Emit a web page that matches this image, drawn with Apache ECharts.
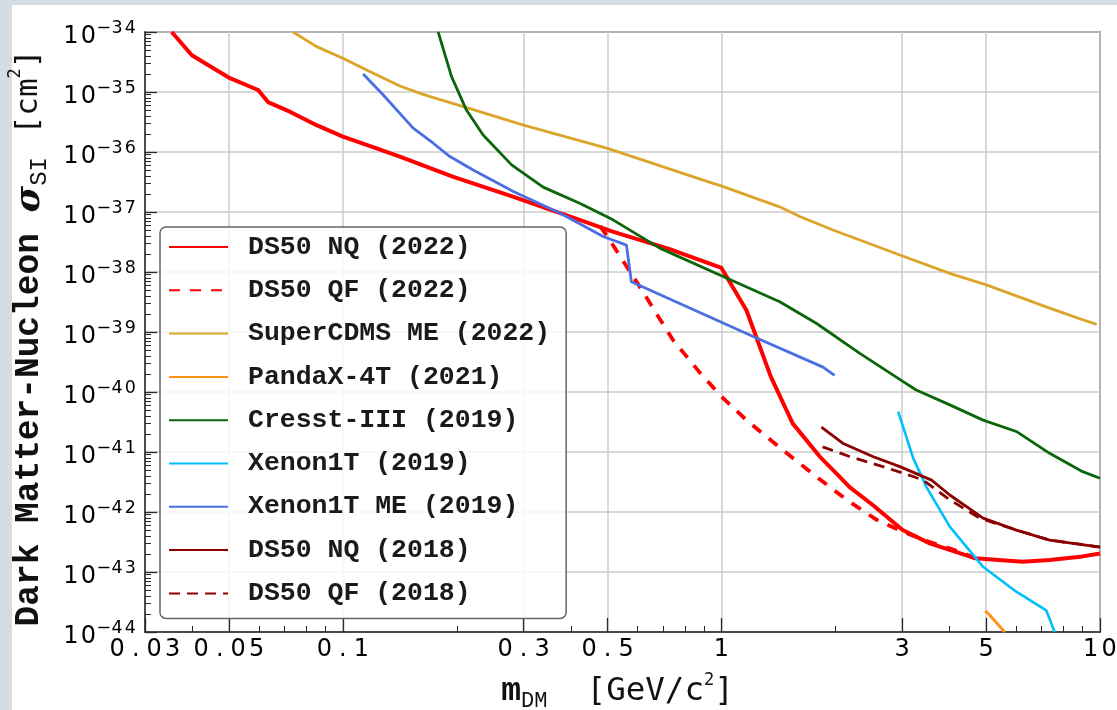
<!DOCTYPE html>
<html>
<head>
<meta charset="utf-8">
<script src="https://cdn.jsdelivr.net/npm/echarts@6/dist/echarts.min.js"></script>
<style>
  html, body { margin: 0; padding: 0; background: #fff; }
  #chart { width: 1117px; height: 710px; }
</style>
</head>
<body>
<div id="chart"></div>
<script>
// [mass in GeV/c^2, cross section in cm^2]
const ds50NQ2022 = [[0.0353, 1.0e-34], [0.0399, 4.1e-35], [0.0503, 1.7e-35], [0.0597, 1.08e-35], [0.0634, 6.8e-36],
  [0.0724, 4.7e-36], [0.0852, 2.8e-36], [0.1, 1.8e-36], [0.1155, 1.31e-36], [0.1414, 8.4e-37], [0.195, 3.9e-37],
  [0.281, 1.8e-37], [0.345, 1.15e-37], [0.422, 7.4e-38], [0.516, 4.7e-38], [0.73, 2.4e-38], [1.0, 1.17e-38],
  [1.164, 2.3e-39], [1.35, 1.8e-40], [1.542, 3.0e-41], [1.818, 8.4e-42], [2.05, 3.9e-42], [2.18, 2.6e-42],
  [2.51, 1.31e-42], [3.01, 5.0e-43], [3.55, 3.0e-43], [4.67, 1.7e-43], [6.25, 1.48e-43], [7.36, 1.58e-43],
  [9.0, 1.82e-43], [10, 2.04e-43]]
const ds50QF2022 = [[0.478, 5.8e-38], [0.497, 4.1e-38], [0.608, 5.7e-39], [0.744, 7.4e-40], [0.877, 2.1e-40],
  [1.0, 8.4e-41], [1.164, 3.4e-41], [1.452, 1.08e-41], [1.78, 3.9e-42], [2.14, 1.6e-42], [2.57, 7.4e-43],
  [3.01, 4.7e-43], [3.55, 3.16e-43], [4.33, 2.1e-43], [4.67, 1.7e-43]]
const superCDMS2022 = [[0.0738, 1.0e-34], [0.0852, 5.7e-35], [0.1, 3.65e-35], [0.1155, 2.33e-35], [0.1414, 1.26e-35],
  [0.16, 9.5e-36], [0.17, 8.4e-36], [0.208, 5.7e-36], [0.3, 2.8e-36], [0.5, 1.15e-36], [0.95, 3.0e-37],
  [0.985, 2.8e-37], [1.425, 1.22e-37], [1.61, 8.4e-38], [1.97, 5.0e-38], [2.96, 1.92e-38], [4.01, 9.5e-39],
  [5.01, 6.1e-39], [7.36, 2.5e-39], [9.0, 1.6e-39], [9.8, 1.34e-39]]
const pandaX2021 = [[4.98, 2.26e-44], [5.11, 1.92e-44], [5.6, 1.0e-44]]
const cresst2019 = [[0.1785, 1.0e-34], [0.1936, 1.8e-35], [0.212, 5.0e-36], [0.2346, 1.92e-36], [0.279, 6.1e-37],
  [0.338, 2.6e-37], [0.422, 1.4e-37], [0.517, 7.4e-38], [0.687, 2.5e-38], [1.01, 8.4e-39], [1.425, 3.2e-39],
  [1.78, 1.4e-39], [2.32, 4.4e-40], [3.02, 1.49e-40], [3.27, 1.08e-40], [4.01, 6.1e-41], [4.91, 3.4e-41],
  [6.01, 2.2e-41], [7.36, 9.5e-42], [9.0, 4.7e-42], [10, 3.65e-42]]
const xenon2019 = [[2.93, 4.7e-41], [3.21, 7.9e-42], [3.48, 2.6e-42], [4.01, 5.7e-43], [4.91, 1.22e-43],
  [6.01, 4.7e-44], [7.21, 2.3e-44], [7.59, 1.0e-44]]
const xenonME2019 = [[0.1131, 2.0e-35], [0.1278, 8.9e-36], [0.1533, 2.5e-36], [0.1732, 1.4e-36], [0.1917, 8.4e-37],
  [0.2208, 5.0e-37], [0.282, 2.2e-37], [0.375, 9.5e-38], [0.487, 3.9e-38], [0.561, 2.8e-38], [0.578, 6.9e-39],
  [1.188, 8.9e-40], [1.854, 2.6e-40], [1.99, 1.9e-40]]
const ds50NQ2018 = [[1.837, 2.6e-41], [2.09, 1.4e-41], [2.51, 8.4e-42], [2.96, 5.7e-42], [3.59, 3.4e-42],
  [4.01, 1.92e-42], [4.91, 7.9e-43], [6.01, 5.0e-43], [7.36, 3.4e-43], [10, 2.6e-43]]
const ds50QF2018 = [[1.85, 1.22e-41], [2.18, 8.4e-42], [2.67, 5.7e-42], [3.21, 3.9e-42], [3.41, 3.4e-42],
  [4.01, 1.6e-42], [4.81, 7.9e-43], [6.01, 5.0e-43], [7.36, 3.4e-43], [10, 2.6e-43]]

const seriesNames = ['DS50 NQ (2022)', 'DS50 QF (2022)', 'SuperCDMS ME (2022)', 'PandaX-4T (2021)',
  'Cresst-III (2019)', 'Xenon1T (2019)', 'Xenon1T ME (2019)', 'DS50 NQ (2018)', 'DS50 QF (2018)']

const xMajorTicks = [0.03, 0.05, 0.1, 0.3, 0.5, 1, 3, 5, 10]
const xTickLabels = ['0.03', '0.05', '0.1', '0.3', '0.5', '1', '3', '5', '10']
const xMinorTicks = [0.04, 0.06, 0.07, 0.08, 0.09, 0.2, 0.4, 0.6, 0.7, 0.8, 0.9, 2, 4, 6, 7, 8, 9]
const yExponents = [-44, -43, -42, -41, -40, -39, -38, -37, -36, -35, -34]
const yMantissas = [2, 3, 4, 5, 6, 7, 8, 9]

// the y axis counts in units of 1e-44 cm^2: very small tick values get lost in rounding
const unitExp = -44
const sigmaUnit = 1e-44
const toUnit = pts => pts.map(p => [p[0], p[1] / sigmaUnit])

const yMajorTicks = yExponents.map(e => Number('1e' + (e - unitExp)))
const yMinorTicks = []
yExponents.slice(0, -1).forEach(e => {
  yMantissas.forEach(m => yMinorTicks.push(Number(m + 'e' + (e - unitExp))))
})

// one rich token per character, so the labels keep the wide spacing of the original
function spaced(text, style) {
  return text.split('').map(c => '{' + style + '|' + c + '}').join('')
}

function line(name, data, color, width, dash) {
  return {
    name: name,
    type: 'line',
    data: toUnit(data),
    symbol: 'none',
    animation: false,
    lineStyle: { color: color, width: width, type: dash || 'solid', join: 'round' },
    itemStyle: { color: color },
    emphasis: { disabled: true }
  }
}

const tickColor = '#2a2a2a'
const gridColor = '#cdcdcd'

const chart = echarts.init(document.getElementById('chart'))
chart.setOption({
  animation: false,
  graphic: [
    { type: 'rect', silent: true, shape: { x: 0, y: 0, width: 1117, height: 5 }, style: { fill: '#d4dce4' } },
    { type: 'rect', silent: true, shape: { x: 0, y: 0, width: 12, height: 710 }, style: { fill: '#d4dce4' } }
  ],
  grid: {
    left: 145, top: 32, right: 17, bottom: 78,
    show: true, borderColor: '#3a3a3a', borderWidth: 1.5, backgroundColor: 'transparent',
    outerBoundsMode: 'none'
  },
  legend: {
    data: seriesNames,
    orient: 'vertical',
    left: 160,
    top: 227,
    padding: [5, 16, 10, 8],
    itemGap: 13.3,
    itemWidth: 59,
    itemHeight: 14,
    selectedMode: false,
    backgroundColor: 'rgba(255,255,255,0.82)',
    borderColor: '#666',
    borderWidth: 1.5,
    borderRadius: 6,
    itemStyle: { opacity: 0 },
    textStyle: {
      fontFamily: 'Liberation Mono',
      fontWeight: 'bold',
      fontSize: 26.5,
      color: '#1a1a1a',
      lineHeight: 30,
      padding: [0, 0, 0, 15]
    }
  },
  xAxis: [
    {
      type: 'log', logBase: 10, min: 0.03, max: 10, position: 'bottom',
      axisLine: { show: true, lineStyle: { color: tickColor, width: 1.5 } },
      axisTick: { show: true, inside: true, length: 14, customValues: xMajorTicks, lineStyle: { color: tickColor, width: 1.3 } },
      minorTick: { show: false },
      splitLine: { show: true, lineStyle: { color: gridColor, width: 1.5 } },
      axisLabel: {
        customValues: xMajorTicks,
        margin: 4,
        formatter: function (v) {
          const i = xMajorTicks.findIndex(t => Math.abs(t - v) / t < 1e-6)
          return i < 0 ? '' : spaced(xTickLabels[i], 'd')
        },
        rich: {
          d: { fontFamily: 'DejaVu Sans', fontSize: 24, color: '#000', width: 18.5, align: 'center', lineHeight: 27 }
        }
      },
      name: '{m|m}{sub|DM}{u|  [GeV/c}{sup|2}{u|]}',
      nameLocation: 'middle',
      nameGap: 40,
      nameTextStyle: {
        padding: [0, 10, 0, 0],
        rich: {
          m: { fontFamily: 'Liberation Mono', fontWeight: 'bold', fontSize: 33, color: '#111', lineHeight: 40 },
          sub: { fontFamily: 'Liberation Mono', fontSize: 22, color: '#111', lineHeight: 30, verticalAlign: 'bottom' },
          u: { fontFamily: 'DejaVu Sans Mono', fontSize: 32.5, color: '#111', lineHeight: 40 },
          sup: { fontFamily: 'DejaVu Sans Mono', fontSize: 17, color: '#111', lineHeight: 17, verticalAlign: 'top' }
        }
      }
    },
    {
      type: 'log', logBase: 10, min: 0.03, max: 10, position: 'bottom',
      axisLine: { show: false },
      axisTick: { show: true, inside: true, length: 6, customValues: xMinorTicks, lineStyle: { color: tickColor, width: 1 } },
      axisLabel: { show: false },
      splitLine: { show: false },
      minorTick: { show: false }
    }
  ],
  yAxis: [
    {
      type: 'log', logBase: 10, min: yMajorTicks[0], max: yMajorTicks[yMajorTicks.length - 1], position: 'left',
      axisLine: { show: true, lineStyle: { color: tickColor, width: 1.5 } },
      axisTick: { show: true, inside: true, length: 12, customValues: yMajorTicks, lineStyle: { color: tickColor, width: 1.3 } },
      minorTick: { show: false },
      splitLine: { show: true, lineStyle: { color: gridColor, width: 1.5 } },
      axisLabel: {
        customValues: yMajorTicks,
        margin: 8,
        padding: [10, 0, 0, 0],
        formatter: function (v) {
          const e = Math.round(Math.log10(v)) + unitExp
          if (yExponents.indexOf(e) < 0) return ''
          return spaced('10', 'b') + spaced('\u2212' + Math.abs(e), 's')
        },
        rich: {
          b: { fontFamily: 'DejaVu Sans', fontSize: 24, color: '#000', width: 17.5, align: 'center', lineHeight: 36 },
          s: { fontFamily: 'DejaVu Sans', fontSize: 17.5, color: '#000', width: 13.3, align: 'center', lineHeight: 17, verticalAlign: 'top' }
        }
      },
      name: '{t|Dark Matter-Nucleon }{sig|\u03c3}{sub|SI}{u| [cm}{sup|2}{u|]}',
      nameLocation: 'middle',
      nameRotate: 90,
      nameGap: 83,
      nameTextStyle: {
        padding: [0, 12, 0, 0],
        rich: {
          t: { fontFamily: 'Liberation Mono', fontWeight: 'bold', fontSize: 34.5, color: '#111', lineHeight: 44 },
          sig: { fontFamily: 'DejaVu Serif', fontWeight: 'bold', fontStyle: 'italic', fontSize: 36, color: '#111', lineHeight: 44 },
          sub: { fontFamily: 'Liberation Mono', fontSize: 24, color: '#111', lineHeight: 27, verticalAlign: 'bottom', padding: [0, 4, 0, 0] },
          u: { fontFamily: 'DejaVu Sans Mono', fontSize: 31, color: '#111', lineHeight: 44 },
          sup: { fontFamily: 'DejaVu Sans Mono', fontSize: 17, color: '#111', lineHeight: 33, verticalAlign: 'top' }
        }
      }
    },
    {
      type: 'log', logBase: 10, min: yMajorTicks[0], max: yMajorTicks[yMajorTicks.length - 1], position: 'left',
      axisLine: { show: false },
      axisTick: { show: true, inside: true, length: 6, customValues: yMinorTicks, lineStyle: { color: tickColor, width: 1 } },
      axisLabel: { show: false },
      splitLine: { show: false },
      minorTick: { show: false }
    }
  ],
  series: [
    line(seriesNames[0], ds50NQ2022, '#ff0000', 4),
    line(seriesNames[1], ds50QF2022, '#ff0000', 3.8, [11, 10]),
    line(seriesNames[2], superCDMS2022, '#daa52a', 2.8),
    line(seriesNames[3], pandaX2021, '#ff9010', 2.8),
    line(seriesNames[4], cresst2019, '#0b650b', 2.8),
    line(seriesNames[5], xenon2019, '#00bfff', 2.6),
    line(seriesNames[6], xenonME2019, '#4a6fe3', 2.8),
    line(seriesNames[7], ds50NQ2018, '#8b0000', 2.8),
    line(seriesNames[8], ds50QF2018, '#8b0000', 2.8, [11, 7])
  ]
})
</script>
</body>
</html>
